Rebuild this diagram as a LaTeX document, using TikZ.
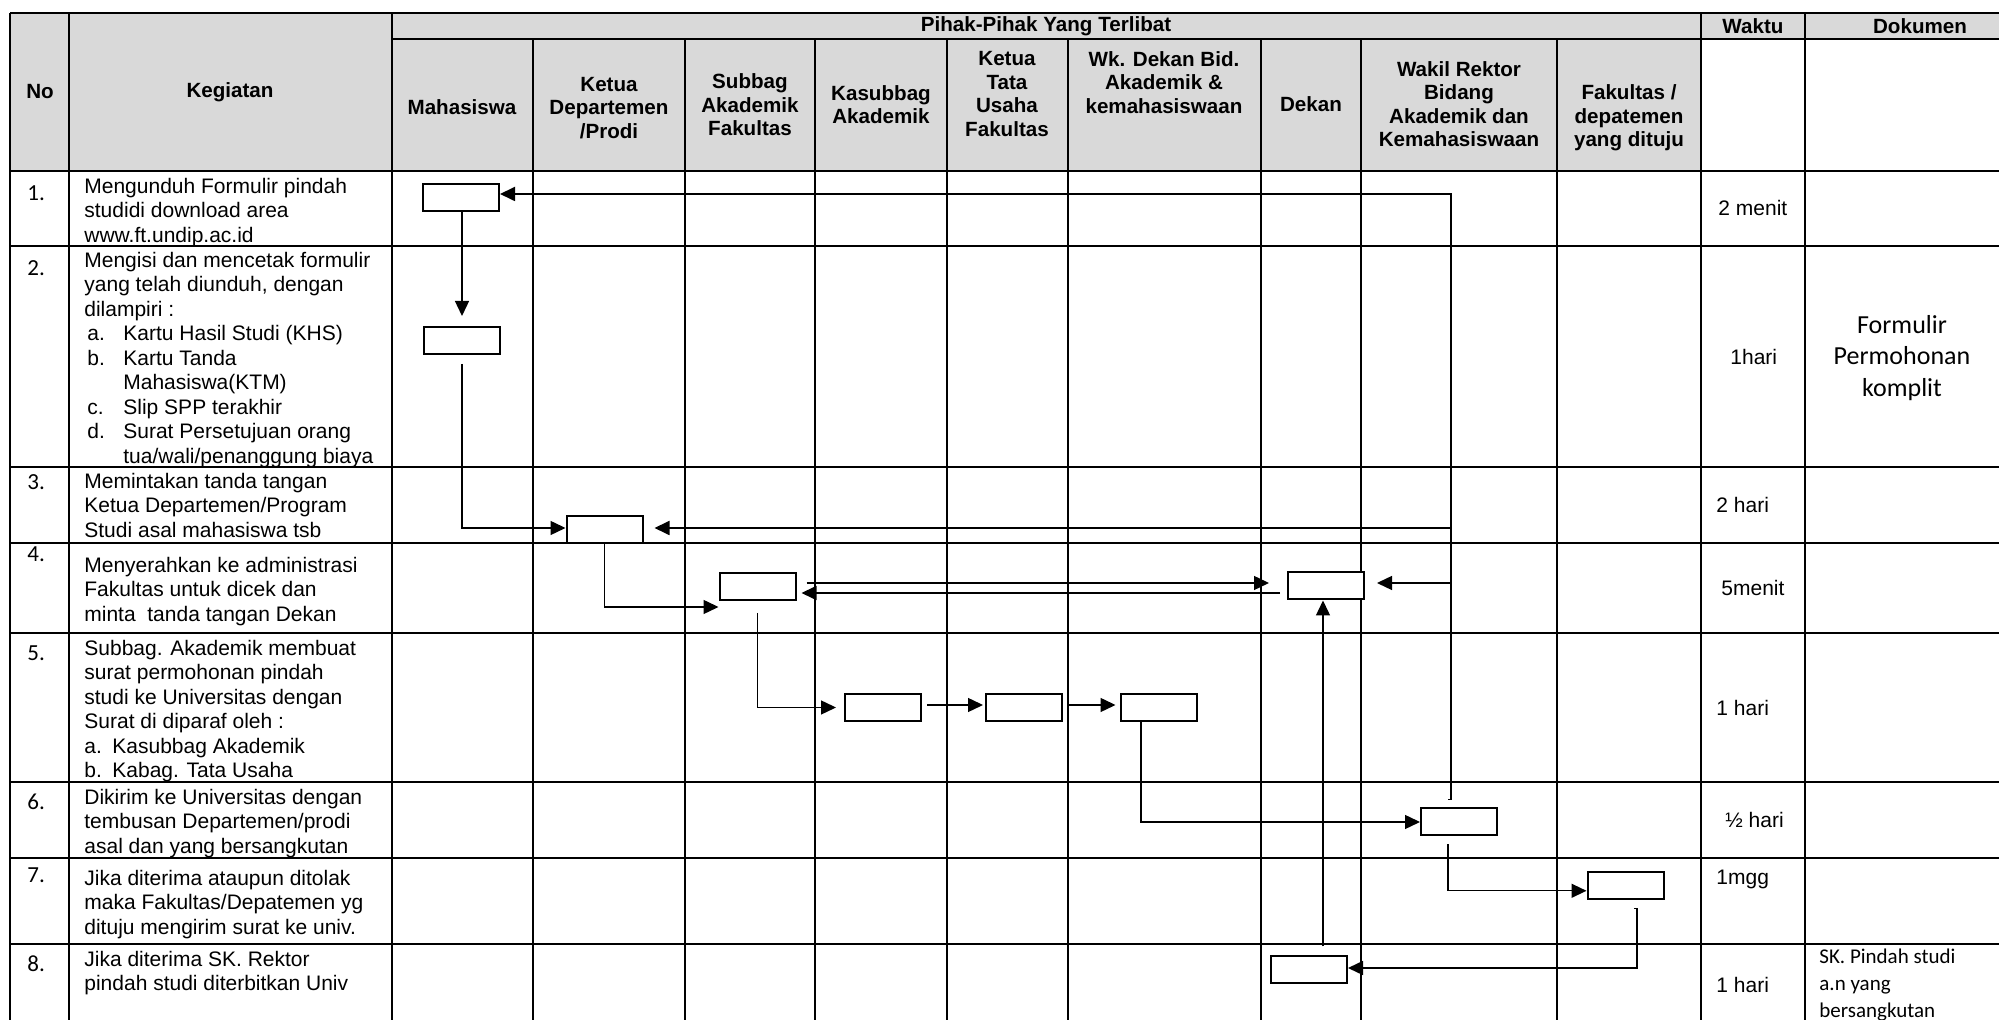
\documentclass[tikz,border=0pt]{standalone}
\usepackage{fontspec}
\setmainfont{Liberation Sans}
\newfontfamily\calibri{Carlito}
\usetikzlibrary{arrows.meta}
\definecolor{hdrgray}{HTML}{D9D9D9}
\begin{document}
\begin{tikzpicture}[x=0.5pt,y=-0.5pt,
  tabline/.style={line width=1pt},
  proc/.style={draw, line width=1pt, fill=white, minimum width=38pt, minimum height=13.5pt, inner sep=0pt},
  conn/.style={line width=0.7pt, -{Triangle[length=7.5pt,width=7pt]}},
  hdr/.style={font=\bfseries\fontsize{10.3}{11.75}\selectfont, align=center, inner sep=0pt},
  body/.style={font=\fontsize{10.5}{12.25}\selectfont, align=left, anchor=north west, inner sep=0pt},
  num/.style={font=\calibri\fontsize{11.5}{13}\selectfont, anchor=west, inner sep=0pt},
  timetxt/.style={font=\fontsize{10.5}{12.25}\selectfont, anchor=base west, inner sep=0pt}]
\useasboundingbox (0,0) rectangle (1999,1020);
\fill[white] (0,0) rectangle (1999,1020);
% header fills
\fill[hdrgray] (10,13) rectangle (392,171);
\fill[hdrgray] (392,13) rectangle (1701,171);
\fill[hdrgray] (1701,13) rectangle (2040,39);
% table lines
\foreach \yy in {13,171,246,467,543,633,782,858,944}
  \draw[tabline] (10,\yy) -- (2040,\yy);
\draw[tabline] (392,39) -- (2040,39);
\foreach \xx in {10,69,392,1701,1805}
  \draw[tabline] (\xx,13) -- (\xx,1025);
\foreach \xx in {533,685,815,947,1068,1261,1361,1557}
  \draw[tabline] (\xx,39) -- (\xx,1025);
% headers
\node[hdr] (hNo) at (40,92) {No};
\node[hdr] (hKeg) at (230,92) {Kegiatan};
\node[hdr] (hPihak) at (1046,26) {Pihak-Pihak Yang Terlibat};
\node[hdr] (hWaktu) at (1753,26) {Waktu};
\node[hdr] (hDok) at (1920,26) {Dokumen};
\node[hdr] (hMhs) at (462,107) {Mahasiswa};
\node[hdr] (hKetua) at (609,108) {Ketua\\Departemen\\/Prodi};
\node[hdr] (hSub) at (750,105) {Subbag\\Akademik\\Fakultas};
\node[hdr] (hKas) at (881,104.5) {Kasubbag\\Akademik};
\node[hdr] (hKTU) at (1007,94) {Ketua\\Tata\\Usaha\\Fakultas};
\node[hdr] (hWk) at (1164,82.5) {Wk. Dekan Bid.\\Akademik \&\\kemahasiswaan};
\node[hdr] (hDekan) at (1311,104) {Dekan};
\node[hdr] (hWR) at (1459,104) {Wakil Rektor\\Bidang\\Akademik dan\\Kemahasiswaan};
\node[hdr] (hFak) at (1629,118) {Fakultas /\\depatemen\\yang dituju};
% row numbers
\node[num] (n1) at (27,193) {1.};
\node[num] (n2) at (27,268) {2.};
\node[num] (n3) at (27,482) {3.};
\node[num] (n4) at (27,554) {4.};
\node[num] (n5) at (27,653) {5.};
\node[num] (n6) at (27,802) {6.};
\node[num] (n7) at (27,875) {7.};
\node[num] (n8) at (27,964) {8.};
% activity texts
\node[body] (t1) at (84,177.6) {Mengunduh Formulir pindah\\studidi download area\\www.ft.undip.ac.id};
\node[body] (t2) at (84,251.6) {Mengisi dan mencetak formulir\\yang telah diunduh, dengan\\dilampiri :\\
\hspace*{1.5pt}\makebox[18pt][l]{a.}Kartu Hasil Studi (KHS)\\
\hspace*{1.5pt}\makebox[18pt][l]{b.}Kartu Tanda\\
\hspace*{19.5pt}Mahasiswa(KTM)\\
\hspace*{1.5pt}\makebox[18pt][l]{c.}Slip SPP terakhir\\
\hspace*{1.5pt}\makebox[18pt][l]{d.}Surat Persetujuan orang\\
\hspace*{19.5pt}tua/wali/penanggung biaya};
\node[body] (t3) at (84,472.6) {Memintakan tanda tangan\\Ketua Departemen/Program\\Studi asal mahasiswa tsb};
\node[body] (t4) at (84,556.6) {Menyerahkan ke administrasi\\Fakultas untuk dicek dan\\minta~ tanda tangan Dekan};
\node[body] (t5) at (84,639.6) {Subbag. Akademik membuat\\surat permohonan pindah\\studi ke Universitas dengan\\Surat di diparaf oleh :\\
\makebox[14pt][l]{a.}Kasubbag Akademik\\
\makebox[14pt][l]{b.}Kabag. Tata Usaha};
\node[body] (t6) at (84,788.6) {Dikirim ke Universitas dengan\\tembusan Departemen/prodi\\asal dan yang bersangkutan};
\node[body] (t7) at (84,869.6) {Jika diterima ataupun ditolak\\maka Fakultas/Depatemen yg\\dituju mengirim surat ke univ.};
\node[body] (t8) at (84,950.6) {Jika diterima SK. Rektor\\pindah studi diterbitkan Univ};
% time texts
\node[timetxt] (w1) at (1718,215.6) {2 menit};
\node[timetxt] (w2) at (1730,364.6) {1hari};
\node[timetxt] (w3) at (1716,512.6) {2 hari};
\node[timetxt] (w4) at (1721,595.6) {5menit};
\node[timetxt] (w5) at (1716,715.6) {1 hari};
\node[timetxt] (w6) at (1725,827.6) {½ hari};
\node[timetxt] (w7) at (1716,884.6) {1mgg};
\node[timetxt] (w8) at (1716,992.6) {1 hari};
% documents
\node[font=\calibri\fontsize{13}{15.85}\selectfont, align=center, inner sep=0pt] (d2) at (1902,358) {Formulir\\Permohonan\\komplit};
\node[font=\calibri\fontsize{10.5}{13.4}\selectfont, align=left, anchor=north west, inner sep=0pt] (d8) at (1819,949) {SK. Pindah studi\\a.n yang\\bersangkutan};
% process boxes
\node[proc] (b1) at (461,197.5) {};
\node[proc] (b2) at (462,340.5) {};
\node[proc] (b3) at (604.5,530) {};
\node[proc] (b4) at (757.5,586.5) {};
\node[proc] (b5) at (1326,586) {};
\node[proc] (b6) at (883,707.5) {};
\node[proc] (b7) at (1024,707.5) {};
\node[proc] (b8) at (1158.5,707.5) {};
\node[proc] (b10) at (1459,822) {};
\node[proc] (b11) at (1625.5,886) {};
\node[proc] (b12) at (1309,970) {};
% connectors
\draw[conn, shorten >=5pt] (b2.north |- b1.south) -- (b2.north);
\draw[conn, shorten <=4.5pt] (b2.south) |- ([yshift=1pt]b3.west);
\draw[conn] (b3.south) |- ([yshift=-3pt]b4.south west);
\draw[conn, shorten <=5pt, shorten >=9pt] ([yshift=1.75pt]b4.east) -- ([yshift=1.75pt]b4.east -| b5.west);
\draw[conn, line width=0.9pt, shorten <=3.5pt, shorten >=2.5pt] ([yshift=-3.5pt]b5.west) -- ([yshift=-3.5pt]b5.west -| b4.east);
\draw[conn, shorten <=6pt, shorten >=4pt] (b4.south) |- (b6.west);
\draw[conn, shorten <=2.5pt, shorten >=1pt] ([yshift=1.25pt]b6.east) -- ([yshift=1.25pt]b7.west);
\draw[conn, shorten <=2.5pt, shorten >=2pt] ([yshift=1.25pt]b7.east) -- ([yshift=1.25pt]b8.west);
\draw[conn] ([xshift=-8.75pt]b8.south) |- (b10.west);
\draw[conn, line width=0.9pt] ([xshift=-5.5pt,yshift=4pt]b10.north) -- ++(3,0) |- ([yshift=1.75pt]b1.east);
\path ([xshift=-4pt]b10.north) coordinate (busx);
\path ([yshift=1pt]b3.east) coordinate (b3in);
\path ([yshift=1.5pt]b5.east) coordinate (b5in);
\coordinate (j3) at (busx |- b3in);
\coordinate (j5) at (busx |- b5in);
\draw[conn, line width=0.9pt, shorten >=5.5pt] (j3) -- (b3in);
\draw[conn, shorten >=6pt] (j5) -- (b5in);
\draw[conn, shorten <=4pt] ([xshift=-5.5pt]b10.south) |- ([yshift=-2.4pt]b11.west);
\draw[conn] ([xshift=4.25pt,yshift=-4pt]b11.south) -- ++(3,0) |- ([yshift=1pt]b12.east);
\draw[conn, shorten <=4.5pt] ([xshift=7pt]b12.north) -- ([xshift=7pt]b12.north |- b5.south);
\end{tikzpicture}
\end{document}
